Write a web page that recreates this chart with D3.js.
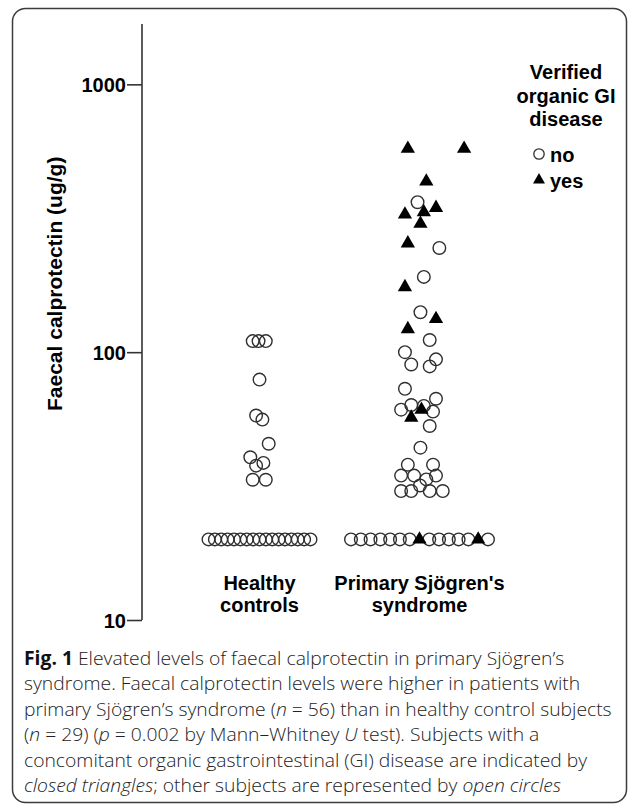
<!DOCTYPE html>
<html><head><meta charset="utf-8">
<script src="https://cdn.jsdelivr.net/npm/d3@7"></script>
<style>body{margin:0;background:#fff}</style>
</head><body>
<svg id="chart" width="634" height="810"></svg>
<script>
// ---------- data ----------
const categories = ["Healthy controls", "Primary Sjögren's syndrome"];
const categoryLines = [["Healthy", "controls"], ["Primary Sjögren's", "syndrome"]];
const yTicks = [10, 100, 1000];
const yTitle = "Faecal calprotectin (ug/g)";
const legendTitle = ["Verified", "organic GI", "disease"];
const legendLabels = ["no", "yes"];
const floorValue = 20;

// Healthy controls (n = 29), 0 = no GI disease
const hcValues = [110, 110, 110, 79, 58, 56, 45.5, 40.5, 38.6, 37.7, 33.4, 33.4,
  20, 20, 20, 20, 20, 20, 20, 20, 20, 20, 20, 20, 20, 20, 20, 20, 20];
const hcGI = [0,0,0,0,0,0,0,0,0,0,0,0, 0,0,0,0,0,0,0,0,0,0,0,0,0,0,0,0,0];
// horizontal jitter of the non-floor dots (in dot-radius units)
const hcJitter = [-1.08, -0.15, 1.0, 0, -0.54, 0.46, 1.46, -1.46, 0.62, -0.54, -1.08, 1.0];

// Primary Sjögren's syndrome (n = 56)
const pssValues = [575, 575, 434, 363, 346, 327, 333, 302, 255, 245, 191, 175, 141, 133, 122,
  111, 100, 94, 90, 88.5, 73, 67, 63.5, 63, 61, 61, 60, 57, 53, 44, 38, 38,
  34.6, 34.6, 34.6, 33.5, 31.8, 30.3, 30.3, 30.3, 30.3,
  20, 20, 20, 20, 20, 20, 20, 20, 20, 20, 20, 20, 20, 20, 20];
const pssGI = [1, 1, 1, 0, 1, 1, 1, 1, 1, 0, 0, 1, 0, 1, 1,
  0, 0, 0, 0, 0, 0, 0, 0, 0, 0, 1, 0, 1, 0, 0, 0, 0,
  0, 0, 0, 0, 0, 0, 0, 0, 0,
  0, 0, 0, 0, 0, 0, 0, 1, 0, 0, 0, 0, 0, 1, 0];
const pssJitter = [-1.85, 7.08, 1.08, -0.31, 2.62, -2.31, 0.69, 0.15, -1.85, 3.15, 0.69, -2.31, 0.15, 2.62, -1.85,
  1.62, -2.31, 2.62, -1.31, 1.62, -2.31, 2.62, -1.31, 0.69, -2.92, 0.31, 2.15, -1.31, 1.62, 0.15, -1.85, 2.15,
  -2.92, -0.85, 2.62, 1.08, 0.08, -2.92, -1.31, 1.62, 3.69];

const captionLines = [
  [["Fig. 1", "b"], [" Elevated levels of faecal calprotectin in primary Sjögren’s", ""]],
  [["syndrome. Faecal calprotectin levels were higher in patients with", ""]],
  [["primary Sjögren’s syndrome (", ""], ["n", "i"], [" = 56) than in healthy control subjects", ""]],
  [["(", ""], ["n", "i"], [" = 29) (", ""], ["p", "i"], [" = 0.002 by Mann–Whitney ", ""], ["U", "i"], [" test). Subjects with a", ""]],
  [["concomitant organic gastrointestinal (GI) disease are indicated by", ""]],
  [["closed triangles", "i"], ["; other subjects are represented by ", ""], ["open circles", "i"]]
];

// ---------- layout ----------
const FONT = "'Liberation Sans', Arial, Helvetica, sans-serif";
const svg = d3.select("#chart");
const axisX = 142, plotTop = 24, plotBottom = 620;
const dotR = 6.3;
const floorSpread = [102, 137];   // width of the row of floor values per group

svg.append("rect").attr("x", 12.5).attr("y", 8.5).attr("width", 614).attr("height", 794)
  .attr("rx", 13).attr("fill", "none").attr("stroke", "#3c3c3c").attr("stroke-width", 1.5);

const y = d3.scaleLog().domain([10, 1680]).range([plotBottom, plotTop]);
const x = d3.scalePoint().domain(categories).range([259.5, 419.5]);
const jit = d3.scaleLinear().domain([0, 1]).range([0, dotR]);

// axis
const yAxis = d3.axisLeft(y).tickValues(yTicks).tickFormat(d3.format("d")).tickSize(15).tickPadding(1);
const ga = svg.append("g").attr("transform", `translate(${axisX},0)`).call(yAxis);
ga.attr("font-family", null).attr("font-size", null);
ga.select(".domain").attr("d", `M0,${plotTop}V${plotBottom}`).attr("stroke", "#333").attr("stroke-width", 1.6);
ga.selectAll(".tick line").attr("stroke", "#333").attr("stroke-width", 1.6);
ga.selectAll(".tick text").style("font-family", FONT)
  .style("font-size", "20px").style("font-weight", "bold").attr("fill", "#000").attr("dy", "0.36em");

svg.append("text").attr("transform", `translate(62,${y(180)}) rotate(-90)`)
  .attr("text-anchor", "middle").style("font-family", FONT)
  .style("font-size", "21px").style("font-weight", "bold").text(yTitle);

// category labels
categories.forEach((c, i) => {
  const t = svg.append("text").attr("text-anchor", "middle")
    .style("font-family", FONT).style("font-size", "20px").style("font-weight", "bold");
  categoryLines[i].forEach((ln, k) => {
    t.append("tspan").attr("x", x(c)).attr("y", 590 + k * 22).text(ln);
  });
});

// points
function build(cat, gi, values, jitter, gIdx) {
  const floorIdx = values.map((v, i) => v === floorValue ? i : -1).filter(i => i >= 0);
  const n = floorIdx.length;
  const step = floorSpread[gIdx] / (n - 1);
  return values.map((v, i) => {
    let off;
    if (v === floorValue) {
      const k = floorIdx.indexOf(i);
      off = (k - (n - 1) / 2) * step;
    } else off = jit(jitter[i]);
    return { cat, v, gi: gi[i], off };
  });
}
const pts = build(categories[0], hcGI, hcValues, hcJitter, 0)
  .concat(build(categories[1], pssGI, pssValues, pssJitter, 1));

svg.append("g").selectAll("circle").data(pts.filter(d => !d.gi)).join("circle")
  .attr("cx", d => x(d.cat) + d.off).attr("cy", d => y(d.v)).attr("r", dotR)
  .attr("fill", "none").attr("stroke", "#2f2f2f").attr("stroke-width", 1.4);

const tri = d3.symbol().type(d3.symbolTriangle).size(88);
svg.append("g").selectAll("path").data(pts.filter(d => d.gi)).join("path")
  .attr("d", tri).attr("transform", d => `translate(${x(d.cat) + d.off},${y(d.v)})`)
  .attr("fill", "#000");

// legend
const lg = svg.append("g").style("font-family", FONT)
  .style("font-size", "20px").style("font-weight", "bold");
const lt = lg.append("text").attr("text-anchor", "middle");
legendTitle.forEach((ln, k) => lt.append("tspan").attr("x", 566).attr("y", 79 + k * 23.5).text(ln));
lg.append("circle").attr("cx", 539).attr("cy", 154).attr("r", 5.2)
  .attr("fill", "none").attr("stroke", "#2f2f2f").attr("stroke-width", 1.3);
lg.append("path").attr("d", d3.symbol().type(d3.symbolTriangle).size(62))
  .attr("transform", "translate(539,180)").attr("fill", "#000");
legendLabels.forEach((l, k) => lg.append("text").attr("x", 550).attr("y", 162 + k * 26).text(l));

// caption
const cap = svg.append("g").style("font-family", "'Open Sans', sans-serif").style("font-size", "19px")
  .attr("fill", "#222").style("font-weight", 300);
const texts = captionLines.map((segs, k) => {
  const t = cap.append("text").attr("x", 0).attr("y", k * 25.5);
  segs.forEach(([s, f]) => {
    const sp = t.append("tspan").text(s);
    if (f === "b") sp.style("font-weight", 700).attr("fill", "#111");
    if (f === "i") sp.style("font-style", "italic");
  });
  return t;
});
const w3 = texts[2].node().getComputedTextLength();
const sx = 588 / w3;
cap.attr("transform", `translate(24,665) scale(${sx},1)`);
</script>
</body></html>
